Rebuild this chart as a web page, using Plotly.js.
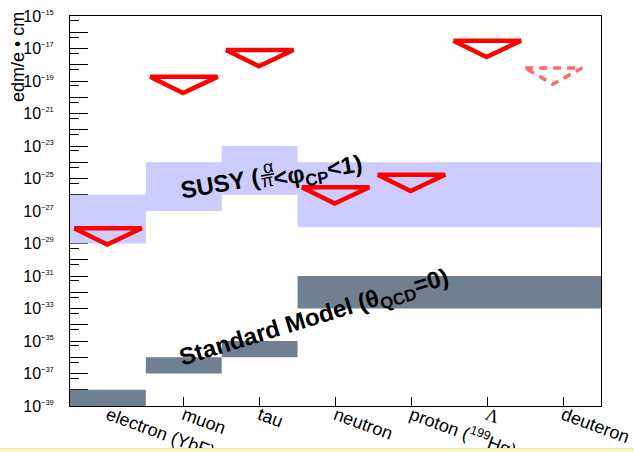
<!DOCTYPE html>
<html>
<head>
<meta charset="utf-8">
<script src="https://cdn.plot.ly/plotly-3.0.1.min.js"></script>
<style>
html,body{margin:0;padding:0;background:#fff;}
#wrap{position:relative;width:634px;height:452px;overflow:hidden;}
#chart{width:634px;height:452px;}
#strip{position:absolute;left:0;bottom:0;width:634px;height:3px;background:#f8f4c8;border-top:1px solid #efe9b4;}
</style>
</head>
<body>
<div id="wrap"><div id="chart"></div><div id="strip"></div></div>
<script>
// ---- data ----
const categories = ["electron (YbF)", "muon", "tau", "neutron", "proton (<sup>199</sup>Hg)", "<span style='font-family:Liberation Serif'>Λ</span>", "deuteron"];
const susyLow  = [1e-29, 1e-27, 1e-26, 1e-28, 1e-28, 1e-28, 1e-28];
const susyHigh = [1e-26, 1e-24, 1e-23, 1e-24, 1e-24, 1e-24, 1e-24];
const smLow    = [1e-39, 1e-37, 1e-36, 1e-33, 1e-33, 1e-33, 1e-33];
const smHigh   = [1e-38, 1e-36, 1e-35, 1e-31, 1e-31, 1e-31, 1e-31];
const limitPos  = [0, 1, 2, 3, 4, 5];
const limitVals = [8.7e-29, 1.8e-19, 8.1e-18, 2.9e-26, 1.7e-25, 3.0e-17];
const projPos  = [5.875];
const projVals = [6.3e-19];
const yExpMin = -39, yExpMax = -15;

// ---- helpers ----
function rects(lo, hi) {
  const x = [], y = [];
  lo.forEach((l, i) => {
    x.push(i - 0.5, i + 0.5, i + 0.5, i - 0.5, i - 0.5, null);
    y.push(l, l, hi[i], hi[i], l, null);
  });
  return {x, y};
}
function triangles(pos, vals, hw) {
  const x = [], y = [];
  pos.forEach((p, i) => {
    const v = vals[i];
    x.push(p - hw, p + hw, p - 0.01, p - hw, null);
    y.push(v, v, v / 10, v, null);
  });
  return {x, y};
}
const susy = rects(susyLow, susyHigh);
const sm = rects(smLow, smHigh);
const lim = triangles(limitPos, limitVals, 0.445);
const proj = triangles(projPos, projVals, 0.375);

const traces = [
  {x: susy.x, y: susy.y, type: 'scatter', mode: 'lines', fill: 'toself', fillcolor: '#ccccff', line: {width: 0, color: '#ccccff'}, hoverinfo: 'skip'},
  {x: sm.x, y: sm.y, type: 'scatter', mode: 'lines', fill: 'toself', fillcolor: '#708090', line: {width: 0, color: '#708090'}, hoverinfo: 'skip'},
  {x: lim.x, y: lim.y, type: 'scatter', mode: 'lines', line: {color: '#ff0000', width: 4.5}, hoverinfo: 'skip'},
  {x: proj.x, y: proj.y, type: 'scatter', mode: 'lines', line: {color: '#ff6b6b', width: 3.5, dash: '8px,6px'}, hoverinfo: 'skip'},
  {x: [], y: [], type: 'scatter', mode: 'lines', yaxis: 'y2', hoverinfo: 'skip'}
];

const yLabVals = [], yLabText = [], yEvenVals = [], yMinor = [];
for (let e = yExpMin; e <= yExpMax; e++) {
  if ((e - yExpMin) % 2 === 0) {
    yLabVals.push(Math.pow(10, e));
    yLabText.push('10<sup><span style="font-size:7.5px">\u2212' + (-e) + '</span></sup>');
  } else {
    yEvenVals.push(Math.pow(10, e));
  }
  if (e < yExpMax) yMinor.push(5 * Math.pow(10, e));
}

const L = 70, R = 601, T = 16, B = 406;
const px = v => (v - L) / (R - L);
const py = v => (B - v) / (B - T);
const F = 'Liberation Sans, Arial, Helvetica, sans-serif';

const layout = {
  width: 634, height: 452,
  margin: {l: L, r: 634 - R, t: T, b: 452 - B, pad: 0},
  paper_bgcolor: '#fff', plot_bgcolor: '#fff',
  showlegend: false,
  font: {family: F, color: '#000'},
  xaxis: {
    range: [-0.5, 6.5], tickmode: 'array', tickvals: categories.map((c, i) => i), ticktext: categories,
    ticks: 'inside', ticklen: 9, tickcolor: '#000', tickwidth: 1, tickangle: 20,
    showline: true, mirror: true, linecolor: '#000', linewidth: 1,
    showgrid: false, zeroline: false, layer: 'below traces',
    tickfont: {size: 18, family: F, color: '#000'}, ticklabelstandoff: -9, fixedrange: true
  },
  yaxis: {
    type: 'log', range: [yExpMin, yExpMax], tickmode: 'array', tickvals: yLabVals, ticktext: yLabText,
    ticks: 'inside', ticklen: 18, tickcolor: '#000', tickwidth: 1,
    minor: {tickmode: 'array', tickvals: yMinor, ticks: 'inside', ticklen: 9, tickcolor: '#000', tickwidth: 1, showgrid: false},
    showline: true, mirror: true, linecolor: '#000', linewidth: 1,
    showgrid: false, zeroline: false, layer: 'below traces',
    tickfont: {size: 16, family: F, color: '#000'}, ticklabelstandoff: 12, fixedrange: true
  },
  yaxis2: {
    type: 'log', range: [yExpMin, yExpMax], overlaying: 'y', anchor: 'x', side: 'left',
    tickmode: 'array', tickvals: yEvenVals, showticklabels: false,
    ticks: 'inside', ticklen: 18, tickcolor: '#000', tickwidth: 1,
    showline: false, showgrid: false, zeroline: false, layer: 'below traces', fixedrange: true
  },
  annotations: [
    {xref: 'paper', yref: 'paper', x: px(18), y: py(57), text: 'edm/e \u2022 cm', textangle: -90, showarrow: false,
     font: {size: 18, family: F, color: '#000'}, xanchor: 'center', yanchor: 'middle'},
    {xref: 'paper', yref: 'paper', x: px(220), y: py(183), text: '<b>SUSY (</b>', textangle: -10, showarrow: false,
     font: {size: 24, family: F, color: '#000'}, xanchor: 'center', yanchor: 'middle'},
    {xref: 'paper', yref: 'paper', x: px(268), y: py(167.5), text: 'α', textangle: -10, showarrow: false,
     font: {size: 18, family: F, color: '#000'}, xanchor: 'center', yanchor: 'middle'},
    {xref: 'paper', yref: 'paper', x: px(266.5), y: py(181), text: 'π', textangle: -10, showarrow: false,
     font: {size: 18, family: F, color: '#000'}, xanchor: 'center', yanchor: 'middle'},
    {xref: 'paper', yref: 'paper', x: px(318), y: py(172), text: '<b><φ<sub>CP</sub><1)</b>', textangle: -10, showarrow: false,
     font: {size: 24, family: F, color: '#000'}, xanchor: 'center', yanchor: 'middle'},
    {xref: 'paper', yref: 'paper', x: px(314), y: py(318), text: '<b>Standard Model (θ<sub>QCD</sub>=0)</b>', textangle: -17, showarrow: false,
     font: {size: 24, family: F, color: '#000'}, xanchor: 'center', yanchor: 'middle'}
  ],
  shapes: [
    {type: 'line', xref: 'paper', yref: 'paper', x0: px(261), y0: py(176), x1: px(274), y1: py(173.8), line: {color: '#000', width: 1.5}}
  ]
};

Plotly.newPlot('chart', traces, layout, {staticPlot: true, displayModeBar: false});
</script>
</body>
</html>
